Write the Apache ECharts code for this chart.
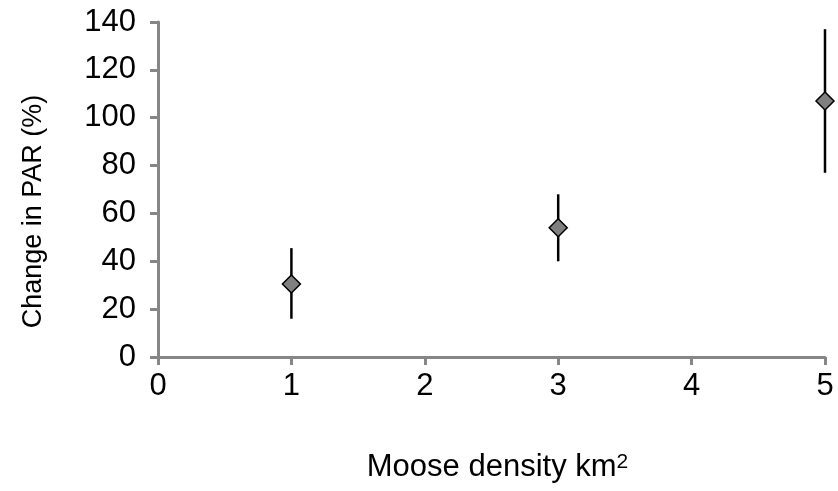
<!DOCTYPE html>
<html><head><meta charset="utf-8">
<script src="https://cdn.jsdelivr.net/npm/echarts@6/dist/echarts.min.js"></script>
<style>html,body{margin:0;padding:0;background:#fff}#c{width:838px;height:491px}</style>
</head><body><div id="c"></div>
<script>
const density = [1, 3, 5];
const parChange = [30.5, 54, 107];
const errLow = [16, 40, 77];
const errHigh = [45.5, 68, 137];
const xTicks = [0, 1, 2, 3, 4, 5];
const yTicks = [0, 20, 40, 60, 80, 100, 120, 140];

const font = 'Liberation Sans, Arial, sans-serif';
const fs = 31;
const chart = echarts.init(document.getElementById('c'), null, {renderer: 'canvas'});
const axisGrey = '#868686';
chart.setOption({
  animation: false,
  grid: {left: 158, right: 13, top: 22, bottom: 134},
  xAxis: {
    type: 'value', min: xTicks[0], max: xTicks[xTicks.length-1], interval: 1,
    splitLine: {show: false},
    axisLine: {lineStyle: {color: axisGrey, width: 3}},
    axisTick: {show: true, length: 8, lineStyle: {color: axisGrey, width: 3}},
    axisLabel: {color: '#000', fontSize: fs, fontFamily: font, margin: 14},
    name: 'Moose density km{sup|2}', nameLocation: 'middle', nameGap: 95,
    nameTextStyle: {color: '#000', fontSize: fs, fontFamily: font, padding: [0, 0, 0, 12],
      rich: {sup: {fontSize: 21, fontFamily: font, color: '#000', verticalAlign: 'top', padding: [0,0,10,0]}}}
  },
  yAxis: {
    type: 'value', min: yTicks[0], max: yTicks[yTicks.length-1], interval: 20,
    splitLine: {show: false},
    axisLine: {show: true, lineStyle: {color: axisGrey, width: 3}},
    axisTick: {show: true, length: 8, lineStyle: {color: axisGrey, width: 3}},
    axisLabel: {color: '#000', fontSize: fs, fontFamily: font, margin: 22},
    name: 'Change in PAR (%)', nameLocation: 'middle', nameGap: 111,
    nameTextStyle: {color: '#000', fontSize: 27, fontFamily: font, padding: [0, 44, 0, 0]}
  },
  series: [
    {
      type: 'custom',
      data: density.map((d, i) => [d, errLow[i], errHigh[i]]),
      renderItem: function (params, api) {
        const p1 = api.coord([api.value(0), api.value(1)]);
        const p2 = api.coord([api.value(0), api.value(2)]);
        return {type: 'line', shape: {x1: p1[0], y1: p1[1], x2: p2[0], y2: p2[1]},
          style: {stroke: '#000', lineWidth: 2.5}};
      },
      z: 1
    },
    {
      type: 'scatter',
      data: density.map((d, i) => [d, parChange[i]]),
      symbol: 'diamond', symbolSize: [18, 18],
      itemStyle: {color: '#808080', borderColor: '#000', borderWidth: 1.5, opacity: 1},
      z: 3
    }
  ]
});
</script></body></html>
